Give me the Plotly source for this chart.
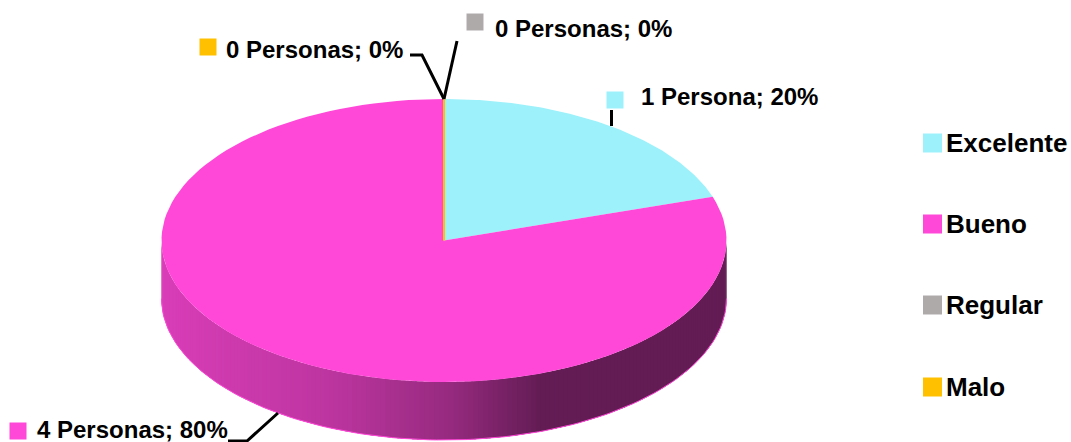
import math
import plotly.graph_objects as go

# data
categories = ["Excelente", "Bueno", "Regular", "Malo"]
personas = [1, 4, 0, 0]
point_labels = ["1 Persona; 20%", "4 Personas; 80%", "0 Personas; 0%", "0 Personas; 0%"]
colors = ["#9cf1fa", "#ff48d8", "#aeaaaa", "#ffc000"]

# pie geometry, in page pixels
CX, CY, RX, RY, DEPTH = 444, 240.5, 282.5, 141.5, 58
FONT = "Liberation Sans"

# wall shading by page x
shade_x = [161, 330, 450, 540, 726]
shade_k = [0.85, 0.74, 0.59, 0.39, 0.39]

# key square and label position for each point label
key_x = [615, 18, 475, 208]
key_y = [100, 431, 22, 47]
label_x = [639, 35, 493, 224]
label_y = [96, 429, 28, 49]
legend_y = [143, 224, 305, 387]

leaders = [
    [(611.5, 110), (611.5, 126)],
    [(228, 441), (247, 441), (278, 413)],
    [(457, 41), (444, 99)],
    [(410, 55), (422, 55), (444, 99)],
]


def point(deg, drop=0):
    t = math.radians(deg)
    return CX + RX * math.sin(t), CY - RY * math.cos(t) + drop


def arc(a, b, drop=0, n=120):
    pts = [point(a + (b - a) * i / n, drop) for i in range(n + 1)]
    return [p[0] for p in pts], [p[1] for p in pts]


def shade(x):
    for i in range(len(shade_x) - 1):
        if x <= shade_x[i + 1]:
            f = (x - shade_x[i]) / (shade_x[i + 1] - shade_x[i])
            return shade_k[i] + f * (shade_k[i + 1] - shade_k[i])
    return shade_k[-1]


def shaded(color, k):
    r, g, b = [int(color[i:i + 2], 16) for i in (1, 3, 5)]
    return f"rgb({r * k:.0f},{g * k:.0f},{b * k:.0f})"


total = sum(personas)
starts, ends = [], []
angle = 0
for v in personas:
    starts.append(angle)
    angle += 360 * v / total
    ends.append(angle)

fig = go.Figure()

# front wall, thin strips for the gradient. Painted right to left, each one
# runs on under the next so no seams show
for start, end, color in zip(starts, ends, colors):
    a, b = max(start, 90), min(end, 270)
    if b <= a:
        continue
    steps = int(b - a)
    for i in range(steps):
        a0 = a + (b - a) * i / steps
        a1 = min(b, a0 + 2 * (b - a) / steps)
        top_x, top_y = arc(a0, a1, 0, 6)
        bot_x, bot_y = arc(a1, a0, DEPTH, 6)
        c = shaded(color, shade(point(a0 + (b - a) / steps / 2)[0]))
        fig.add_trace(go.Scatter(x=top_x + bot_x, y=top_y + bot_y, mode="none", fill="toself",
                                 fillcolor=c, hoverinfo="skip"))
    rim_x, rim_y = arc(a, b, DEPTH)
    fig.add_trace(go.Scatter(x=rim_x, y=rim_y, mode="lines", line=dict(color=color, width=1), hoverinfo="skip"))

# top face
for start, end, color, cat, v in zip(starts, ends, colors, categories, personas):
    xs, ys = arc(start, end)
    fig.add_trace(go.Scatter(x=[CX] + xs + [CX], y=[CY] + ys + [CY], mode="lines", fill="toself",
                             fillcolor=color, line=dict(color=color, width=2 if v == 0 else 0),
                             name=cat, hoverinfo="name"))

# point label keys
fig.add_trace(go.Scatter(x=key_x, y=key_y, mode="markers", hoverinfo="skip",
                         marker=dict(symbol="square", size=17, color=colors)))
# legend keys
fig.add_trace(go.Scatter(x=[932.5] * 4, y=legend_y, mode="markers", hoverinfo="skip",
                         marker=dict(symbol="square", size=19, color=colors)))

for text, x, y in zip(point_labels, label_x, label_y):
    fig.add_annotation(x=x, y=y, text=f"<b>{text}</b>", showarrow=False, xanchor="left", yanchor="middle",
                       font=dict(family=FONT, size=24, color="black"))
for text, y in zip(categories, legend_y):
    fig.add_annotation(x=944, y=y, text=f"<b>{text}</b>", showarrow=False, xanchor="left", yanchor="middle",
                       font=dict(family=FONT, size=26, color="black"))

for line in leaders:
    path = "M" + " L".join(f"{x},{y}" for x, y in line)
    fig.add_shape(type="path", path=path, line=dict(color="black", width=3), xref="x", yref="y")

fig.update_layout(
    width=1071,
    height=442,
    margin=dict(l=0, r=0, t=0, b=0),
    autosize=False,
    showlegend=False,
    paper_bgcolor="white",
    plot_bgcolor="white",
    xaxis=dict(range=[0, 1071], visible=False),
    yaxis=dict(range=[442, 0], visible=False),
)

fig.write_html("out.html", config=dict(displayModeBar=False),
               post_script="document.body.style.margin='0';")
